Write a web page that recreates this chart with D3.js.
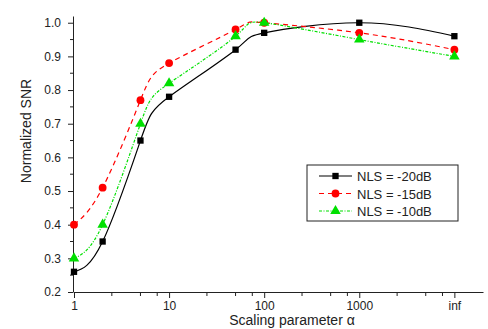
<!DOCTYPE html>
<html>
<head>
<meta charset="utf-8">
<script src="https://cdn.jsdelivr.net/npm/d3@7"></script>
<style>
  body { margin: 0; background: #fff; }
  svg { display: block; font-family: "Liberation Sans", Arial, sans-serif; }
</style>
</head>
<body>
<svg id="chart"></svg>
<script>
// scaling parameter values; "inf" is placed at 10^4
const alphaValues = [1, 2, 5, 10, 50, 100, 1000, 10000];
const tickValues = [1, 10, 100, 1000, 10000];
const tickLabels = ['1', '10', '100', '1000', 'inf'];

const seriesNames = ['NLS = -20dB', 'NLS = -15dB', 'NLS = -10dB'];
const snr20 = [0.26, 0.35, 0.65, 0.78, 0.92, 0.97, 1.00, 0.96];
const snr15 = [0.40, 0.51, 0.77, 0.88, 0.98, 1.00, 0.97, 0.92];
const snr10 = [0.30, 0.40, 0.70, 0.82, 0.96, 1.00, 0.95, 0.90];

const width = 488;
const height = 329;
const margin = { top: 16, right: 5, bottom: 37, left: 73 };

const svg = d3.select('#chart')
  .attr('width', width)
  .attr('height', height);

const x = d3.scaleLog()
  .domain([1, 20000])
  .range([margin.left + 1, width - margin.right]);

const y = d3.scaleLinear()
  .domain([0.2, 1.02])
  .range([height - margin.bottom, margin.top]);

// minor ticks: Origin style, linear steps of 2.5 inside each decade
const minorX = [];
for (let d = 1; d <= 10000; d *= 10) {
  [2.5, 5, 7.5].forEach(m => { if (m * d < 20000) minorX.push(m * d); });
}
const minorY = d3.range(0.25, 1.0, 0.1);

const xAxis = svg.append('g')
  .attr('transform', `translate(0,${height - margin.bottom})`)
  .call(d3.axisBottom(x).tickValues(tickValues).tickFormat((d, i) => tickLabels[i]).tickSizeInner(6).tickSizeOuter(0).tickPadding(3));
xAxis.selectAll('.minor')
  .data(minorX)
  .enter()
  .append('line')
  .attr('x1', d => x(d))
  .attr('x2', d => x(d))
  .attr('y1', 0)
  .attr('y2', 4)
  .attr('stroke', '#222');

const yAxis = svg.append('g')
  .attr('transform', `translate(${margin.left},0)`)
  .call(d3.axisLeft(y).tickValues(d3.range(0.2, 1.01, 0.1)).tickFormat(d3.format('.1f')).tickSizeInner(5).tickSizeOuter(0).tickPadding(7));
yAxis.selectAll('.minor')
  .data(minorY)
  .enter()
  .append('line')
  .attr('x1', 0)
  .attr('x2', -3)
  .attr('y1', d => y(d))
  .attr('y2', d => y(d))
  .attr('stroke', '#222');

svg.selectAll('.domain').attr('stroke', '#222');
svg.selectAll('.tick line').attr('stroke', '#222');
svg.selectAll('.tick text').attr('font-size', 12).attr('fill', '#222').attr('font-family', '"Liberation Sans", Arial, sans-serif');

svg.append('text')
  .attr('transform', `translate(31,131) rotate(-90)`)
  .attr('text-anchor', 'middle')
  .attr('font-size', 14)
  .attr('fill', '#222')
  .text('Normalized SNR');

svg.append('text')
  .attr('x', 292)
  .attr('y', 325)
  .attr('text-anchor', 'middle')
  .attr('font-size', 14)
  .attr('fill', '#222')
  .text('Scaling parameter α');

const series = [
  { name: seriesNames[0], values: snr20, color: '#000000', dash: null, shape: d3.symbolSquare },
  { name: seriesNames[1], values: snr15, color: '#ff0000', dash: '5,4', shape: d3.symbolCircle },
  { name: seriesNames[2], values: snr10, color: '#00e000', dash: '3,1.5,1,1.5', shape: d3.symbolTriangle }
];

const line = d3.line()
  .x(d => x(d[0]))
  .y(d => y(d[1]))
  .curve(d3.curveNatural);

series.forEach(s => {
  const pts = alphaValues.map((a, i) => [a, s.values[i]]);
  svg.append('path')
    .datum(pts)
    .attr('d', line)
    .attr('fill', 'none')
    .attr('stroke', s.color)
    .attr('stroke-width', 1.2)
    .attr('stroke-dasharray', s.dash);
  svg.selectAll(null)
    .data(pts)
    .enter()
    .append('path')
    .attr('d', d3.symbol().type(s.shape).size(s.shape === d3.symbolSquare ? 40 : 48))
    .attr('transform', d => `translate(${x(d[0])},${y(d[1])})`)
    .attr('fill', s.color);
});

// legend
const legend = svg.append('g').attr('transform', 'translate(307,165)');
legend.append('rect')
  .attr('width', 151)
  .attr('height', 56)
  .attr('fill', '#fff')
  .attr('stroke', '#222');
series.forEach((s, i) => {
  const ly = 11 + i * 17.5;
  legend.append('line')
    .attr('x1', 12).attr('x2', 45)
    .attr('y1', ly).attr('y2', ly)
    .attr('stroke', s.color)
    .attr('stroke-width', 1.2)
    .attr('stroke-dasharray', s.dash);
  legend.append('path')
    .attr('d', d3.symbol().type(s.shape).size(s.shape === d3.symbolSquare ? 40 : 48))
    .attr('transform', `translate(28.5,${ly})`)
    .attr('fill', s.color);
  legend.append('text')
    .attr('x', 50)
    .attr('y', ly + 5)
    .attr('font-size', 13)
    .attr('fill', '#222')
    .text(s.name);
});
</script>
</body>
</html>
